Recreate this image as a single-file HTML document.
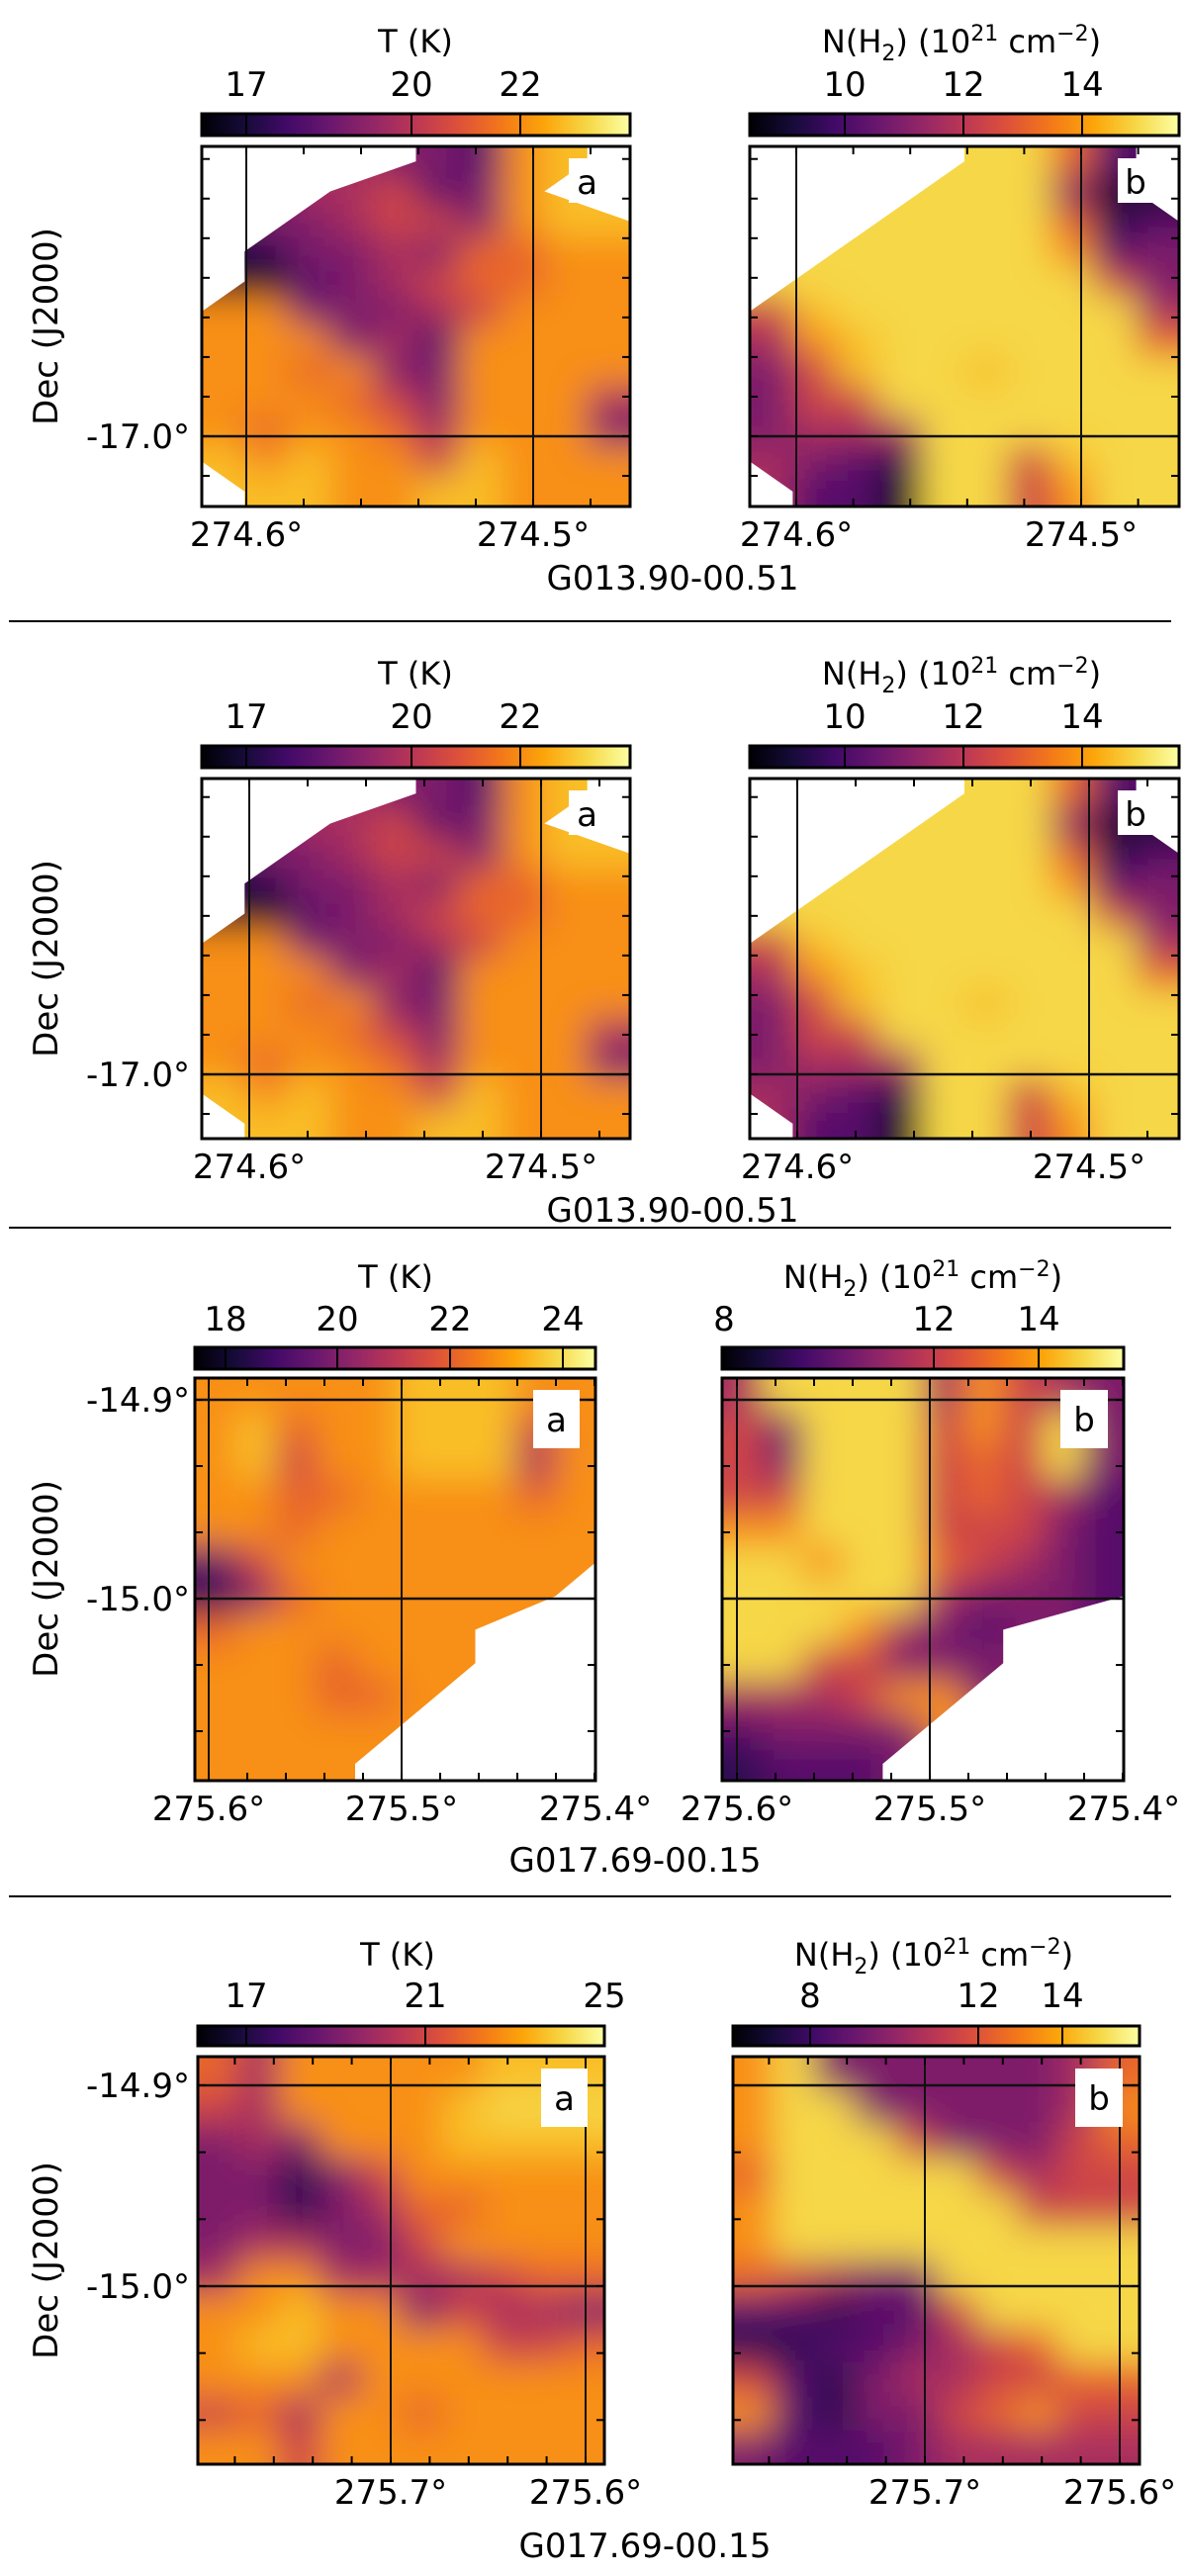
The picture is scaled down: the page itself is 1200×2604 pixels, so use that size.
<!DOCTYPE html>
<html><head><meta charset="utf-8"><style>
html,body{margin:0;padding:0;background:#fff;}
svg{display:block;font-family:"DejaVu Sans","Liberation Sans",sans-serif;}
</style></head><body>
<svg id="fig" width="1200" height="2604" viewBox="0 0 1200 2604" xmlns="http://www.w3.org/2000/svg">
<defs>
<linearGradient id="inferno" x1="0" x2="1" y1="0" y2="0">
<stop offset="0" stop-color="#000004"/><stop offset="0.1" stop-color="#160b39"/><stop offset="0.2" stop-color="#420a68"/><stop offset="0.3" stop-color="#6a176e"/><stop offset="0.4" stop-color="#932667"/><stop offset="0.5" stop-color="#bc3754"/><stop offset="0.6" stop-color="#dd513a"/><stop offset="0.7" stop-color="#f37819"/><stop offset="0.8" stop-color="#fca50a"/><stop offset="0.9" stop-color="#f6d746"/><stop offset="1" stop-color="#fcffa4"/>
</linearGradient>
<filter id="blur" x="-5%" y="-5%" width="110%" height="110%"><feGaussianBlur stdDeviation="18"/></filter>
</defs>
</svg>
<script>
// map data: digits 0-9 = colormap level, '.' = no data (NaN)
const p1TempRows = [".....3278.","...45237..","..34553788",".133436677",".023456677","7733345777","7773427777","7767337777","7776537774","7677647773","8787758777",".887788777"];
const p1ColRows = [".....9962.","....99930.","...9999612","..99999723",".999999953","5899999994","4789999996","3589989999","3559999999","3444999999","4321995899",".220995799"];
const p3TempRows = ["7777788877","7867788857","7857788847","7766777767","7767777777","2577777777","136777777.","6777777...","7776777...","777667....","77777.....","7777......"];
const p3ColRows = ["4999947543","5399957593","5399956593","5599956542","7799955532","9979965432","9999943332","9997432...","9955333...","444577....","23333.....","1222......"];
const p4TempRows = ["6477777888","5477778999","3437778888","3313577777","3313466777","3443357777","4774444566","7787735443","7887777556","7774777777","5647767777","7757777777"];
const p4ColRows = ["7933333346","7993333347","7999533356","6999995455","7999999555","7999999999","6543399999","2212259999","1122345699","5213445566","7213356755","3222344444"];
// colorbar tick labels
const p1TempTicks = ["17","20","22"];
const p1ColTicks = ["10","12","14"];
const p3TempTicks = ["18","20","22","24"];
const p3ColTicks = ["8","12","14"];
const p4TempTicks = ["17","21","25"];
const p4ColTicks = ["8","12","14"];
const p1XTicks = ["274.6°","274.5°"];
const p3XTicks = ["275.6°","275.5°","275.4°"];
const p4XTicks = ["275.7°","275.6°"];
const p1YTicks = ["-17.0°"];
const p3YTicks = ["-14.9°","-15.0°"];

const NS="http://www.w3.org/2000/svg";
const svg=document.getElementById('fig');
const stops=[[0,[0,0,4]],[0.1,[22,11,57]],[0.2,[66,10,104]],[0.3,[106,23,110]],[0.4,[147,38,103]],[0.5,[188,55,84]],[0.6,[221,81,58]],[0.7,[243,120,25]],[0.8,[252,165,10]],[0.9,[246,215,70]],[1,[252,255,164]]];
function cmap(v){v=Math.max(0,Math.min(1,v));for(let i=1;i<stops.length;i++){if(v<=stops[i][0]){const a=stops[i-1],b=stops[i];const t=(v-a[0])/(b[0]-a[0]);const c=a[1].map((x,k)=>Math.round(x+(b[1][k]-x)*t));return `rgb(${c[0]},${c[1]},${c[2]})`;}}return 'rgb(252,255,164)';}
function mk(tag,attrs,parent){const e=document.createElementNS(NS,tag);for(const k in attrs)e.setAttribute(k,attrs[k]);(parent||svg).appendChild(e);return e;}
function txt(s,x,y,size,anchor,parent){const t=mk('text',{x:x,y:y,'font-size':size,'text-anchor':anchor||'middle',fill:'#000'},parent);t.textContent=s;return t;}
function nearest(rows,r,c){
  let best=null,bd=1e9;
  for(let i=0;i<rows.length;i++)for(let j=0;j<rows[i].length;j++){if(rows[i][j]!=='.'){const d=(i-r)*(i-r)+(j-c)*(j-c);if(d<bd){bd=d;best=rows[i][j];}}}
  return best;
}
let clipId=0;
function drawMap(rows,x0,y0,x1,y1,name,vlines,hlines){
  const g=mk('g',{});
  
  
  const cid='clip'+(clipId++);
  const cp=mk('clipPath',{id:cid},g);mk('rect',{x:x0,y:y0,width:x1-x0,height:y1-y0},cp);
  const cg=mk('g',{'clip-path':`url(#${cid})`},g);
  const bg=mk('g',{filter:'url(#blur)'},cg);
  const nr=rows.length,nc=rows[0].length,cw=(x1-x0)/nc,ch=(y1-y0)/nr,pad=40;
  for(let r=0;r<nr;r++)for(let c=0;c<nc;c++){
    let d=rows[r][c];
    if(d==='.')d=nearest(rows,r,c);
    const fill=cmap(Math.min(0.9,(+d)/10+0.05));
    let x=x0+c*cw,y=y0+r*ch,w=cw+0.6,h=ch+0.6;
    if(c===0){x-=pad;w+=pad;} if(c===nc-1){w+=pad;}
    if(r===0){y-=pad;h+=pad;} if(r===nr-1){h+=pad;}
    const cell=mk('rect',{x:x,y:y,width:w,height:h,fill:fill},bg);
    
    
  }
  // no-data masks as smooth polygons from leading / trailing NaN counts
  const lead=rows.map(s=>{let k=0;while(k<s.length&&s[k]==='.')k++;return k;});
  const trail=rows.map(s=>{let k=0;while(k<s.length&&s[s.length-1-k]==='.')k++;return k;});
  let lp=[[x0-1,y0-1],[x0+lead[0]*cw,y0-1]];
  lead.forEach((k,r)=>lp.push([x0+k*cw,y0+(r+0.5)*ch]));
  lp.push([x0+lead[nr-1]*cw,y1+1],[x0-1,y1+1]);
  let rp=[[x1+1,y0-1],[x1-trail[0]*cw,y0-1]];
  trail.forEach((k,r)=>rp.push([x1-k*cw,y0+(r+0.5)*ch]));
  rp.push([x1-trail[nr-1]*cw,y1+1],[x1+1,y1+1]);
  [lp,rp].forEach(pts=>{
    const p=mk('polygon',{points:pts.map(q=>q.join(',')).join(' '),fill:'#fff'},cg);
    
    
  });
  vlines.forEach(v=>mk('line',{x1:v,x2:v,y1:y0,y2:y1,stroke:'#111','stroke-width':2},g));
  hlines.forEach(v=>mk('line',{x1:x0,x2:x1,y1:v,y2:v,stroke:'#111','stroke-width':2.5},g));
  const sx=(vlines.length>1?(vlines[1]-vlines[0]):(x1-x0))/5;
  let s=vlines[0]; while(s-sx>x0)s-=sx;
  for(let x=s;x<x1;x+=sx){mk('line',{x1:x,x2:x,y1:y0,y2:y0+8,stroke:'#000','stroke-width':2},g);mk('line',{x1:x,x2:x,y1:y1,y2:y1-8,stroke:'#000','stroke-width':2},g);}
  const sy=(hlines.length>1?(hlines[1]-hlines[0]):(y1-y0)*0.33)/3;
  let t=hlines[0]; while(t-sy>y0)t-=sy;
  for(let y=t;y<y1;y+=sy){mk('line',{x1:x0,x2:x0+8,y1:y,y2:y,stroke:'#000','stroke-width':2},g);mk('line',{x1:x1,x2:x1-8,y1:y,y2:y,stroke:'#000','stroke-width':2},g);}
  mk('rect',{x:x0,y:y0,width:x1-x0,height:y1-y0,fill:'none',stroke:'#000','stroke-width':3},g);
  return g;
}
function drawCbar(x0,y0,x1,y1,ticksX,labels,name,labelY){
  const g=mk('g',{});
  
  
  mk('rect',{x:x0,y:y0,width:x1-x0,height:y1-y0,fill:'url(#inferno)',stroke:'#000','stroke-width':3},g);
  ticksX.forEach((x,i)=>{if(x<x1-2)mk('line',{x1:x,x2:x,y1:y0,y2:y1,stroke:'#000','stroke-width':2},g);const t=txt(labels[i],x,labelY,34,'middle',g);});
}
function nLabel(x,y){
  const t=mk('text',{x:x,y:y,'font-size':32,'text-anchor':'middle'});
  
  
  t.innerHTML='N(H<tspan font-size="22" dy="8">2</tspan><tspan dy="-8">) (10</tspan><tspan font-size="22" dy="-12">21</tspan><tspan dy="12"> cm</tspan><tspan font-size="22" dy="-12">−2</tspan><tspan dy="12">)</tspan>';
}
function tLabel(x,y){const t=txt('T (K)',x,y,32);}
function decLabel(cy){const t=mk('text',{x:0,y:0,'font-size':34,'text-anchor':'middle',transform:`translate(58 ${cy}) rotate(-90)`});t.textContent='Dec (J2000)';}
function xLabels(labels,xs,y){labels.forEach((l,i)=>{const t=txt(l,xs[i],y,34);});}
function yLabels(labels,ys){labels.forEach((l,i)=>{const t=txt(l,192,ys[i]+12,34,'end');});}
function title(s,x,y){const t=txt(s,x,y,34);}
function sep(y){const l=mk('line',{x1:9,x2:1184,y1:y,y2:y,stroke:'#000','stroke-width':2});}
function letterBox(l,x0,y0,x1,y1,ty){const g=mk('g',{});mk('rect',{x:x0,y:y0,width:x1-x0,height:y1-y0,fill:'#fff'},g);txt(l,(x0+x1)/2,ty,34,'middle',g);}

function panel13(off,vl,vr,hl){
  tLabel(420,off+53); nLabel(972,off+53);
  drawCbar(204,off+115,637,off+137,[249,416,526],p1TempTicks,'temperature-colorbar',off+97);
  drawCbar(758,off+115,1192,off+137,[854,974,1094],p1ColTicks,'density-colorbar',off+97);
  drawMap(p1TempRows,204,off+148,637,off+512,'temperature-map',vl,[hl]);
  drawMap(p1ColRows,758,off+148,1192,off+512,'density-map',vr,[hl]);
  letterBox('a',575,off+160,612,off+205,off+196);
  letterBox('b',1130,off+160,1166,off+205,off+196);
  decLabel(off+330); yLabels(p1YTicks,[hl]);
  xLabels(p1XTicks,[vl[0],vl[1]],off+552); xLabels(p1XTicks,[vr[0],vr[1]],off+552);
  title('G013.90-00.51',680,off+596);
}
panel13(0,[249,539],[805,1093],441);
sep(628);
panel13(639,[252,547],[806,1101],1086);
sep(1241);
tLabel(400,1302); nLabel(933,1302);
drawCbar(197,1362,602,1384,[228,341,455,569],p3TempTicks,'temperature-colorbar',1345);
drawCbar(730,1362,1136,1384,[732,944,1050],p3ColTicks,'density-colorbar',1345);
drawMap(p3TempRows,197,1393,602,1800,'temperature-map',[211,406],[1415,1616]);
drawMap(p3ColRows,730,1393,1136,1800,'density-map',[745,940],[1415,1616]);
letterBox('a',539,1405,586,1464,1447);
letterBox('b',1072,1405,1120,1464,1447);
decLabel(1596); yLabels(p3YTicks,[1415,1616]);
xLabels(p3XTicks,[211,406,602],1840); xLabels(p3XTicks,[745,940,1136],1840);
title('G017.69-00.15',642,1892);
sep(1917);
tLabel(402,1987); nLabel(944,1987);
drawCbar(200,2048,611,2068,[249,430,611],p4TempTicks,'temperature-colorbar',2029);
drawCbar(741,2048,1152,2068,[819,989,1074],p4ColTicks,'density-colorbar',2029);
drawMap(p4TempRows,200,2079,611,2491,'temperature-map',[395,592],[2108,2311]);
drawMap(p4ColRows,741,2079,1152,2491,'density-map',[935,1132],[2108,2311]);
letterBox('a',547,2091,594,2150,2133);
letterBox('b',1087,2091,1135,2150,2133);
decLabel(2285); yLabels(p3YTicks,[2108,2311]);
xLabels(p4XTicks,[395,592],2531); xLabels(p4XTicks,[935,1132],2531);
title('G017.69-00.15',652,2585);
</script>
</body></html>
